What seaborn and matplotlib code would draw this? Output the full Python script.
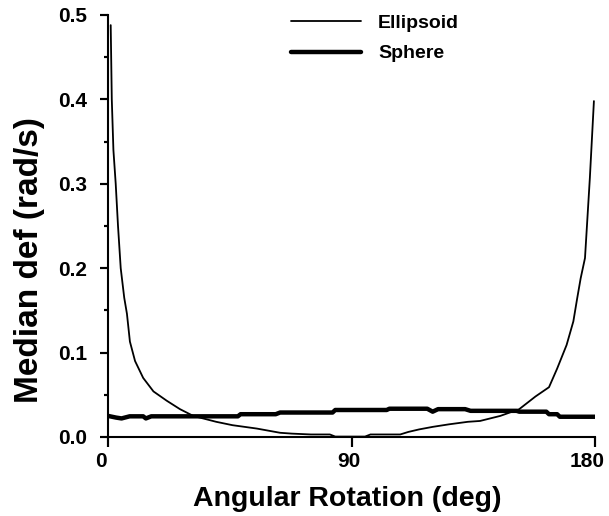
import matplotlib
matplotlib.use("Agg")
import matplotlib.pyplot as plt
import matplotlib.transforms as mtransforms
import seaborn as sns
import pandas as pd
import numpy as np
from matplotlib.ticker import MultipleLocator

# ---- data ----
ellipsoid_deg = [1.0, 1.4, 2.0, 2.85, 3.7, 4.7, 6.0, 7.0, 8.1, 10, 13, 16.8, 21.7, 26.6,
                 31.5, 40, 46, 55, 63.6, 68, 75, 82, 84, 95, 97, 108, 111, 115, 120,
                 126, 133, 137.5, 145, 152, 158, 163, 166, 169.5, 172, 173.4, 174.7,
                 176.3, 178.1, 179.6]
ellipsoid_val = [0.488, 0.40, 0.34, 0.30, 0.25, 0.20, 0.165, 0.146, 0.113, 0.090, 0.070,
                 0.054, 0.043, 0.033, 0.025, 0.018, 0.014, 0.010, 0.005, 0.004, 0.003,
                 0.003, 0.0005, 0.0005, 0.003, 0.003, 0.006, 0.009, 0.012, 0.015, 0.018,
                 0.019, 0.025, 0.033, 0.048, 0.059, 0.081, 0.109, 0.137, 0.164, 0.188,
                 0.212, 0.307, 0.398]

sphere_deg = [0, 3, 5, 8, 13, 14, 16, 48, 49, 62, 63.6, 83, 84, 103, 104, 118, 120, 122,
              132, 134, 151, 152, 162, 163, 166, 167, 180]
sphere_val = [0.025, 0.023, 0.022, 0.0245, 0.0245, 0.022, 0.0245, 0.0245, 0.027, 0.027,
              0.029, 0.029, 0.032, 0.032, 0.0335, 0.0335, 0.030, 0.033, 0.033, 0.031,
              0.031, 0.030, 0.030, 0.027, 0.027, 0.024, 0.024]

x_ticks = [0, 90, 180]
x_tick_labels = ["0", "90", "180"]
y_ticks = [0.0, 0.1, 0.2, 0.3, 0.4, 0.5]
y_tick_labels = ["0.0", "0.1", "0.2", "0.3", "0.4", "0.5"]
y_minor_step = 0.05

sns.set_style("ticks")
plt.rcParams["font.family"] = ["Liberation Sans", "DejaVu Sans"]
plt.rcParams["font.weight"] = "bold"
for k in ["text.color", "axes.labelcolor", "xtick.color", "ytick.color", "axes.edgecolor"]:
    plt.rcParams[k] = "black"

fig = plt.figure(figsize=(6.09, 5.16), dpi=100)
ax = fig.add_axes([108 / 609, 1 - 437 / 516, (595 - 108) / 609, (437 - 15) / 516])

df_e = pd.DataFrame({"deg": ellipsoid_deg, "val": ellipsoid_val})
df_s = pd.DataFrame({"deg": sphere_deg, "val": sphere_val})

sns.lineplot(data=df_e, x="deg", y="val", ax=ax, color="black", lw=1.3,
             label="Ellipsoid", estimator=None)
sns.lineplot(data=df_s, x="deg", y="val", ax=ax, color="black", lw=3.2,
             label="Sphere", estimator=None)

ax.set_xlim(0, 180)
ax.set_ylim(0, 0.5)
ax.set_xticks(x_ticks, labels=x_tick_labels)
ax.set_yticks(y_ticks, labels=y_tick_labels)
ax.yaxis.set_minor_locator(MultipleLocator(y_minor_step))

for s in ["top", "right"]:
    ax.spines[s].set_visible(False)
for s in ["left", "bottom"]:
    ax.spines[s].set_linewidth(1.5)

ax.tick_params(axis="x", which="major", bottom=True, direction="out", length=7,
               width=1.5, colors="black", labelsize=15, pad=4)
ax.tick_params(axis="y", which="major", left=True, direction="out", length=6,
               width=1.5, colors="black", labelsize=15, pad=9)
ax.tick_params(axis="y", which="minor", left=True, direction="out", length=3,
               width=1.5, colors="black")

# tick marks also drawn explicitly at the tick positions (outside the axes)
ax_w_px, ax_h_px = 487.0, 422.0
ax.vlines(x_ticks, -9.5 / ax_h_px, 0, transform=ax.get_xaxis_transform(),
          colors="black", lw=1.5, clip_on=False)
ax.hlines(y_ticks, -8.5 / ax_w_px, 0, transform=ax.get_yaxis_transform(),
          colors="black", lw=1.5, clip_on=False)
y_minor = np.arange(y_minor_step, 0.5, 2 * y_minor_step)
ax.hlines(y_minor, -4.5 / ax_w_px, 0, transform=ax.get_yaxis_transform(),
          colors="black", lw=1.5, clip_on=False)

# small horizontal offsets of the x tick labels as in the reference
x_offsets_px = [-7, -3, -8]
for lab, dx in zip(ax.get_xticklabels(), x_offsets_px):
    lab.set_transform(lab.get_transform() +
                      mtransforms.ScaledTranslation(dx / 100, 0, fig.dpi_scale_trans))

ax.set_xlabel("Angular Rotation (deg)", fontsize=20.5, fontweight="bold")
ax.xaxis.set_label_coords((347.5 - 108) / 487, (437 - 486) / 422)
ax.set_ylabel("Median def (rad/s)", fontsize=24, fontweight="bold")
ax.yaxis.set_label_coords((45 - 108) / 487, (437 - 260) / 422)

leg = ax.legend(loc="upper left", bbox_to_anchor=((283 - 108) / 487, 1.02),
                frameon=False, fontsize=14, handlelength=3.6, handletextpad=0.88,
                labelspacing=0.66, borderaxespad=0)
for t in leg.get_texts():
    t.set_fontweight("bold")

fig.savefig("out.png", dpi=100)
